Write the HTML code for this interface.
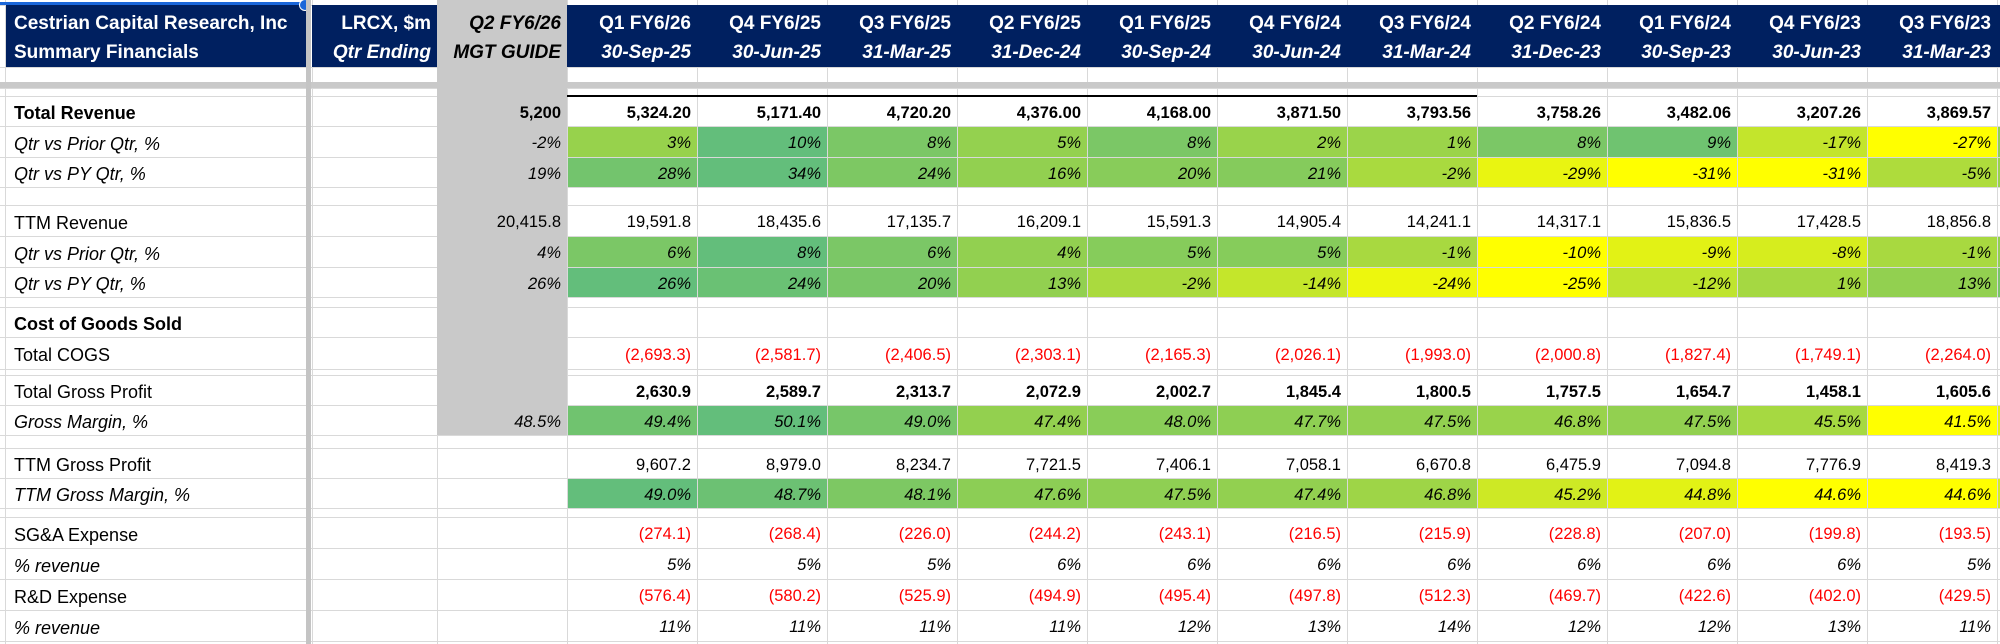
<!DOCTYPE html>
<html><head><meta charset="utf-8">
<style>
html,body{margin:0;padding:0;background:#fff;}
#root{position:relative;width:2000px;height:644px;overflow:hidden;background:#fff;font-family:"Liberation Sans",Arial,sans-serif;font-size:16.5px;color:#000;}
.c{position:absolute;box-sizing:border-box;white-space:nowrap;overflow:visible;line-height:1;display:flex;align-items:center;}
.r{justify-content:flex-end;padding-right:6px;}
.l{padding-left:8px;font-size:18px;}
.h{font-size:19px;}
.b{font-weight:bold;}
.i{font-style:italic;}
.red{color:#ff0000;}
.hl{position:absolute;height:1px;background:#d9d9d9;}
.vl{position:absolute;width:1px;background:#d9d9d9;}
</style></head><body>
<div id="root"></div>
<script>
const R=document.getElementById('root');
function div(cls,st,txt){const d=document.createElement('div');d.className=cls;Object.assign(d.style,st);if(txt!==undefined)d.textContent=txt;R.appendChild(d);return d;}
const colX=[567];for(let i=1;i<=12;i++)colX.push(567+i*130);
const vx=[5,306,312,437,567];for(let i=1;i<=11;i++)vx.push(567+i*130);
vx.forEach(x=>div('vl',{left:x+'px',top:'0px',height:'644px'}));
const rows=[
 {t:96,h:30},{t:126,h:31},{t:157,h:30},{t:187,h:18},
 {t:205,h:31},{t:236,h:31},{t:267,h:30},{t:297,h:10},
 {t:307,h:30},{t:337,h:32},{t:369,h:6},{t:375,h:30},{t:405,h:30},{t:435,h:13},
 {t:448,h:30},{t:478,h:30},{t:508,h:9},{t:517,h:31},{t:548,h:31},{t:579,h:31},{t:610,h:31}];
[5,67,82,88].concat(rows.map(r=>r.t)).concat([641]).forEach(y=>div('hl',{left:'0px',top:y+'px',width:'2000px'}));
div('c',{left:'437px',top:'0px',width:'130px',height:'435px',background:'#c9c9c9'});
div('c',{left:'0px',top:'82px',width:'2000px',height:'6px',background:'#c9c9c9'});
div('c',{left:'6px',top:'5px',width:'300px',height:'62px',background:'#002060'});
div('c',{left:'312px',top:'5px',width:'125px',height:'62px',background:'#002060'});
div('c',{left:'567px',top:'5px',width:'1433px',height:'62px',background:'#002060'});
function ht(x,w,y,txt,cls,col){div('c h '+cls,{left:x+'px',top:y+'px',width:w+'px',height:'28px',color:col||'#fff'},txt);}
ht(6,300,9,'Cestrian Capital Research, Inc','l b');
ht(6,300,38,'Summary Financials','l b');
ht(312,125,9,'LRCX, $m','r b');
ht(312,125,38,'Qtr Ending','r b i');
ht(437,130,9,'Q2 FY6/26','r b i','#000');
ht(437,130,38,'MGT GUIDE','r b i','#000');
const hq=['Q1 FY6/26','Q4 FY6/25','Q3 FY6/25','Q2 FY6/25','Q1 FY6/25','Q4 FY6/24','Q3 FY6/24','Q2 FY6/24','Q1 FY6/24','Q4 FY6/23','Q3 FY6/23'];
const hd=['30-Sep-25','30-Jun-25','31-Mar-25','31-Dec-24','30-Sep-24','30-Jun-24','31-Mar-24','31-Dec-23','30-Sep-23','30-Jun-23','31-Mar-23'];
hq.forEach((q,i)=>{ht(colX[i],130,9,q,'r b');ht(colX[i],130,38,hd[i],'r b i');});
div('c',{left:'0px',top:'2px',width:'305px',height:'3px',background:'#1a66d9'});
div('c',{left:'299px',top:'-1px',width:'12px',height:'12px',borderRadius:'50%',background:'#1a66d9',border:'1px solid #fff'});
div('c',{left:'306px',top:'0px',width:'5px',height:'644px',background:'#c4c4c4'});
div('c',{left:'567px',top:'95px',width:'910px',height:'2px',background:'#000'});
function hex(h){return [parseInt(h.slice(1,3),16),parseInt(h.slice(3,5),16),parseInt(h.slice(5,7),16)];}
function mix(a,b,f){a=hex(a);b=hex(b);return 'rgb('+a.map((v,i)=>Math.round(v+(b[i]-v)*f)).join(',')+')';}
function colors(vals){const s=[...vals].sort((a,b)=>a-b);const mn=s[0],mx=s[s.length-1],md=s[Math.floor(s.length/2)];
 return vals.map(v=>{if(v<=md){const f=md==mn?1:(v-mn)/(md-mn);return mix('#FFFF00','#92D050',Math.sqrt(f));}else{const f=mx==md?1:(v-md)/(mx-md);return mix('#92D050','#63BE7B',f);}});}
const data=[
 {r:0,lab:'Total Revenue',lc:'b',vc:'b',g:'5,200',v:['5,324.20','5,171.40','4,720.20','4,376.00','4,168.00','3,871.50','3,793.56','3,758.26','3,482.06','3,207.26','3,869.57']},
 {r:1,lab:'Qtr vs Prior Qtr, %',lc:'i',vc:'i',g:'-2%',p:[3,10,8,5,8,2,1,8,9,-17,-27],x:6},
 {r:2,lab:'Qtr vs PY Qtr, %',lc:'i',vc:'i',g:'19%',p:[28,34,24,16,20,21,-2,-29,-31,-31,-5],x:10},
 {r:4,lab:'TTM Revenue',lc:'',vc:'',g:'20,415.8',v:['19,591.8','18,435.6','17,135.7','16,209.1','15,591.3','14,905.4','14,241.1','14,317.1','15,836.5','17,428.5','18,856.8']},
 {r:5,lab:'Qtr vs Prior Qtr, %',lc:'i',vc:'i',g:'4%',p:[6,8,6,4,5,5,-1,-10,-9,-8,-1],x:4},
 {r:6,lab:'Qtr vs PY Qtr, %',lc:'i',vc:'i',g:'26%',p:[26,24,20,13,-2,-14,-24,-25,-12,1,13],x:20},
 {r:8,lab:'Cost of Goods Sold',lc:'b'},
 {r:9,lab:'Total COGS',lc:'',vc:'red',v:['(2,693.3)','(2,581.7)','(2,406.5)','(2,303.1)','(2,165.3)','(2,026.1)','(1,993.0)','(2,000.8)','(1,827.4)','(1,749.1)','(2,264.0)']},
 {r:11,lab:'Total Gross Profit',lc:'',vc:'b',v:['2,630.9','2,589.7','2,313.7','2,072.9','2,002.7','1,845.4','1,800.5','1,757.5','1,654.7','1,458.1','1,605.6']},
 {r:12,lab:'Gross Margin, %',lc:'i',vc:'i',g:'48.5%',p:[49.4,50.1,49.0,47.4,48.0,47.7,47.5,46.8,47.5,45.5,41.5],dec:1,x:42},
 {r:14,lab:'TTM Gross Profit',lc:'',vc:'',v:['9,607.2','8,979.0','8,234.7','7,721.5','7,406.1','7,058.1','6,670.8','6,475.9','7,094.8','7,776.9','8,419.3']},
 {r:15,lab:'TTM Gross Margin, %',lc:'i',vc:'i',p:[49.0,48.7,48.1,47.6,47.5,47.4,46.8,45.2,44.8,44.6,44.6],dec:1,x:45},
 {r:17,lab:'SG&A Expense',lc:'',vc:'red',v:['(274.1)','(268.4)','(226.0)','(244.2)','(243.1)','(216.5)','(215.9)','(228.8)','(207.0)','(199.8)','(193.5)']},
 {r:18,lab:'% revenue',lc:'i',vc:'i',v:['5%','5%','5%','6%','6%','6%','6%','6%','6%','6%','5%']},
 {r:19,lab:'R&D Expense',lc:'',vc:'red',v:['(576.4)','(580.2)','(525.9)','(494.9)','(495.4)','(497.8)','(512.3)','(469.7)','(422.6)','(402.0)','(429.5)']},
 {r:20,lab:'% revenue',lc:'i',vc:'i',v:['11%','11%','11%','11%','12%','13%','14%','12%','12%','13%','11%']},
];
data.forEach(d=>{const rw=rows[d.r];const st={top:(rw.t+2)+'px',height:rw.h+'px'};
 div('c l '+d.lc,Object.assign({left:'6px',width:'300px'},st),d.lab);
 if(d.g)div('c r '+(d.vc||''),Object.assign({left:'437px',width:'130px'},st),d.g);
 let vals=d.v;
 if(d.p){const all=d.p.concat([d.x]);const cs=colors(all);
  vals=d.p.map(v=>d.dec?v.toFixed(1)+'%':v+'%');
  cs.forEach((c,i)=>div('c',{left:(colX[i]+1)+'px',top:(rw.t+1)+'px',width:'129px',height:(rw.h-1)+'px',background:c}));}
 if(vals)vals.forEach((t,i)=>div('c r '+(d.vc||''),Object.assign({left:colX[i]+'px',width:'130px'},st),t));
});
</script>
</body></html>
